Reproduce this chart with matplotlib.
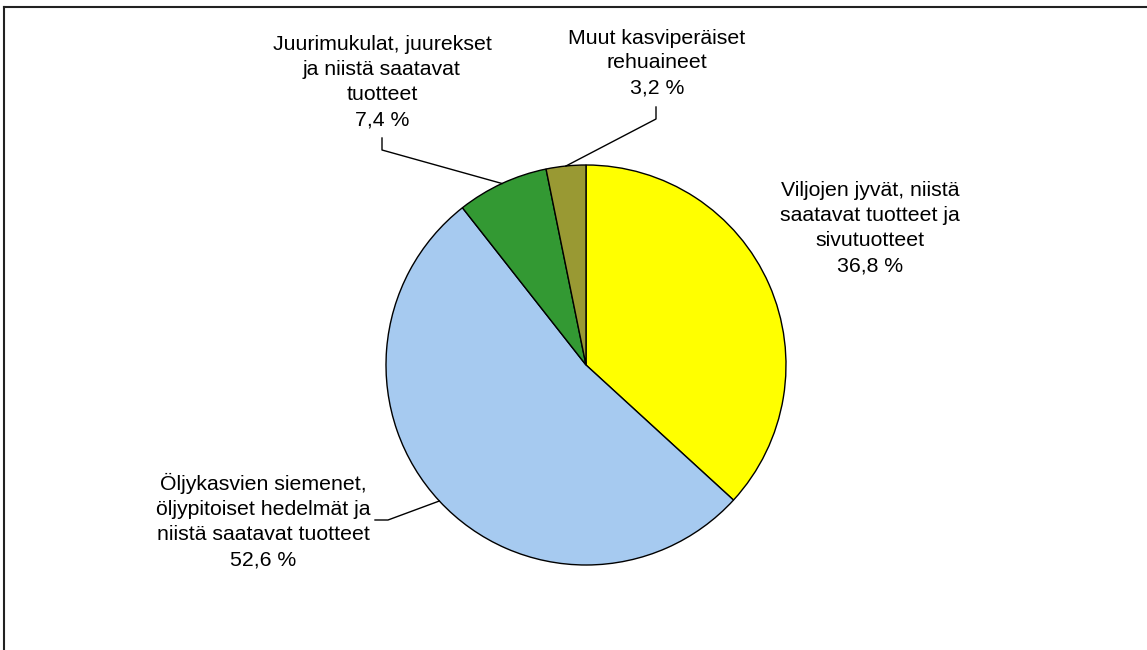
import numpy as np
import matplotlib
matplotlib.use('Agg')
import matplotlib.pyplot as plt

labels = ['Viljojen jyvät, niistä\nsaatavat tuotteet ja\nsivutuotteet',
          'Öljykasvien siemenet,\nöljypitoiset hedelmät ja\nniistä saatavat tuotteet',
          'Juurimukulat, juurekset\nja niistä saatavat\ntuotteet',
          'Muut kasviperäiset\nrehuaineet']
shares = [36.8, 52.6, 7.4, 3.2]
colors = ['#FFFF00', '#A6CAF0', '#339933', '#999933']

W, H = 1147, 650
cx, cy, r = 586, H - 365, 200

# label text centre (pixels from top-left) and leader elbow (None = no leader)
text_pos = [(870, 228), (263, 521), (382, 82), (657, 63)]
elbows = [None, [(375, 520), (388, 520)], [(382, 138), (382, 150)], [(656, 107), (656, 119)]]

plt.rcParams['font.family'] = ['Liberation Sans', 'DejaVu Sans']
fig = plt.figure(figsize=(W / 100, H / 100), dpi=100)
ax = fig.add_axes([0, 0, 1, 1])

wedges, _ = ax.pie(shares, colors=colors, startangle=90, counterclock=False,
                   center=(cx, cy), radius=r, frame=True,
                   wedgeprops=dict(edgecolor='black', linewidth=1))
ax.set_xlim(0, W)
ax.set_ylim(0, H)
ax.set_aspect('equal')
ax.axis('off')

for i, w in enumerate(wedges):
    txt = labels[i] + '\n' + ('%.1f %%' % shares[i]).replace('.', ',')
    tx, ty = text_pos[i]
    ax.text(tx, H - ty, txt, ha='center', va='center', fontsize=15.3,
            linespacing=1.4, color='black')
    if elbows[i] is not None:
        mid = np.deg2rad((w.theta1 + w.theta2) / 2)
        ex, ey = cx + r * np.cos(mid), cy + r * np.sin(mid)
        xs = [p[0] for p in elbows[i]] + [ex]
        ys = [H - p[1] for p in elbows[i]] + [ey]
        ax.plot(xs, ys, color='black', linewidth=1)

# outer chart border (top and left visible)
fig.add_artist(plt.Line2D([4 / W, 1], [1 - 7 / H, 1 - 7 / H], color='#222222', linewidth=1.5))
fig.add_artist(plt.Line2D([4 / W, 4 / W], [0, 1 - 7 / H], color='#222222', linewidth=1.5))

fig.savefig('out.png', dpi=100)
